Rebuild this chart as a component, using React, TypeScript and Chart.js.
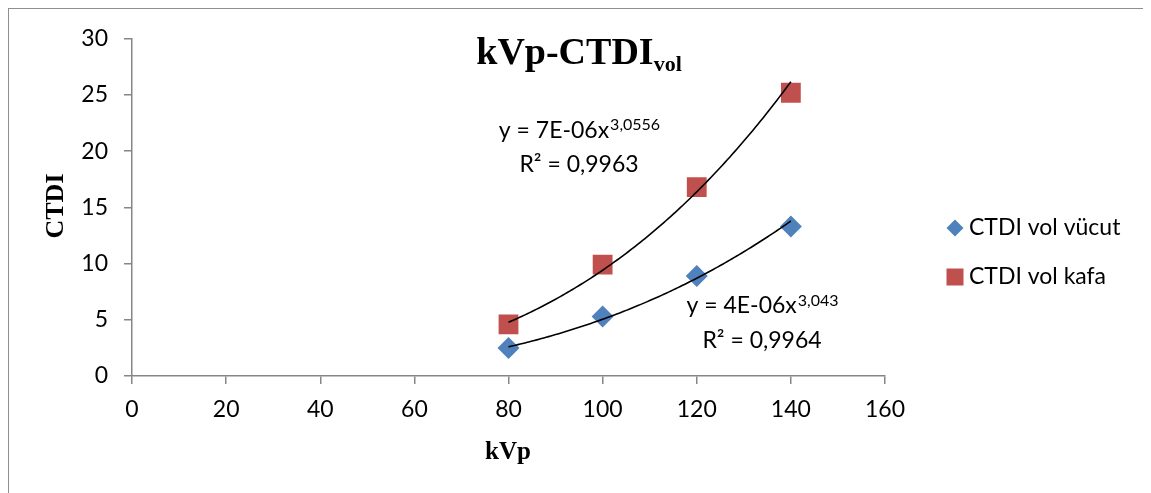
import { useEffect, useRef } from "react";
import { Chart, registerables } from "chart.js";

Chart.register(...registerables);

// Tube voltage (kVp) and measured CTDIvol values
const kvp = [80, 100, 120, 140];
const ctdiVucut = [2.5, 5.3, 8.9, 13.3];
const ctdiKafa = [4.6, 9.9, 16.8, 25.2];

const xTicks = [0, 20, 40, 60, 80, 100, 120, 140, 160];
const yTicks = [0, 5, 10, 15, 20, 25, 30];

const seriesNames = ["CTDI vol vücut", "CTDI vol kafa"];
const seriesColors = ["#4F81BD", "#C0504D"];

// Trendline equation texts (power fit)
const eqVucut = ["y = 4E-06x", "3,043", "R² = 0,9964"];
const eqKafa = ["y = 7E-06x", "3,0556", "R² = 0,9963"];

const chartTitle = ["kVp-CTDI", "vol"];
const xTitle = "kVp";
const yTitle = "CTDI";

const SANS = "Lato, 'Open Sans', sans-serif";
const SERIF = "'Liberation Serif', 'Times New Roman', serif";
const AXIS_GRAY = "#868686";
const TEXT_SIZE = 23;
const SUP_SIZE = 16;

// Least squares fit of y = a * x^b in log-log space
function powerFit(xs: number[], ys: number[]) {
  const lx = xs.map(Math.log);
  const ly = ys.map(Math.log);
  const n = xs.length;
  const mx = lx.reduce((s, v) => s + v, 0) / n;
  const my = ly.reduce((s, v) => s + v, 0) / n;
  let sxy = 0;
  let sxx = 0;
  for (let i = 0; i < n; i++) {
    sxy += (lx[i] - mx) * (ly[i] - my);
    sxx += (lx[i] - mx) * (lx[i] - mx);
  }
  const b = sxy / sxx;
  const a = Math.exp(my - b * mx);
  return { a, b };
}

function trendPoints(xs: number[], ys: number[]) {
  const { a, b } = powerFit(xs, ys);
  const pts: { x: number; y: number }[] = [];
  const x0 = xs[0];
  const x1 = xs[xs.length - 1];
  for (let x = x0; x <= x1 + 1e-9; x += 0.5) {
    pts.push({ x, y: a * Math.pow(x, b) });
  }
  return pts;
}

function drawEquation(
  ctx: CanvasRenderingContext2D,
  eq: string[],
  cx: number,
  base1: number,
  supBase: number,
  base2: number
) {
  ctx.fillStyle = "#000";
  ctx.textBaseline = "alphabetic";
  ctx.textAlign = "left";
  ctx.font = `${TEXT_SIZE}px ${SANS}`;
  const w1 = ctx.measureText(eq[0]).width;
  ctx.font = `${SUP_SIZE}px ${SANS}`;
  const w2 = ctx.measureText(eq[1]).width;
  const start = cx - (w1 + w2) / 2;
  ctx.font = `${TEXT_SIZE}px ${SANS}`;
  ctx.fillText(eq[0], start, base1);
  ctx.font = `${SUP_SIZE}px ${SANS}`;
  ctx.fillText(eq[1], start + w1 + 1, supBase);
  ctx.font = `${TEXT_SIZE}px ${SANS}`;
  ctx.textAlign = "center";
  ctx.fillText(eq[2], cx, base2);
}

const decorations = {
  id: "decorations",
  afterDraw(chart: Chart) {
    const ctx = chart.ctx;
    ctx.save();

    // Title with subscript
    ctx.fillStyle = "#000";
    ctx.textBaseline = "alphabetic";
    ctx.textAlign = "left";
    ctx.font = `bold 38px ${SERIF}`;
    const tw1 = ctx.measureText(chartTitle[0]).width;
    ctx.font = `bold 22px ${SERIF}`;
    const tw2 = ctx.measureText(chartTitle[1]).width;
    const tStart = 570 - (tw1 + tw2) / 2;
    ctx.font = `bold 38px ${SERIF}`;
    ctx.fillText(chartTitle[0], tStart, 55);
    ctx.font = `bold 22px ${SERIF}`;
    ctx.fillText(chartTitle[1], tStart + tw1, 62);

    // Axis titles
    ctx.font = `bold 25px ${SERIF}`;
    ctx.textAlign = "center";
    ctx.fillText(xTitle, 499, 450);
    ctx.save();
    ctx.translate(47, 197);
    ctx.rotate(-Math.PI / 2);
    ctx.textBaseline = "middle";
    ctx.font = `bold 26px ${SERIF}`;
    ctx.fillText(yTitle, 0, 0);
    ctx.restore();

    // Trendline equations
    drawEquation(ctx, eqKafa, 570, 129, 121, 163);
    drawEquation(ctx, eqVucut, 753, 304, 297, 339);

    // Legend
    const lx = 946;
    const rows = [219, 268];
    ctx.fillStyle = seriesColors[0];
    ctx.beginPath();
    ctx.moveTo(lx - 8.5, rows[0]);
    ctx.lineTo(lx, rows[0] - 8.5);
    ctx.lineTo(lx + 8.5, rows[0]);
    ctx.lineTo(lx, rows[0] + 8.5);
    ctx.closePath();
    ctx.fill();
    ctx.fillStyle = seriesColors[1];
    ctx.fillRect(lx - 8.5, rows[1] - 8.5, 17, 17);
    ctx.fillStyle = "#000";
    ctx.font = `${TEXT_SIZE}px ${SANS}`;
    ctx.textAlign = "left";
    ctx.textBaseline = "middle";
    ctx.fillText(seriesNames[0], 960, rows[0]);
    ctx.fillText(seriesNames[1], 960, rows[1]);

    ctx.restore();
  },
};

export default function App() {
  const canvasRef = useRef<HTMLCanvasElement | null>(null);

  useEffect(() => {
    document.body.style.overflow = "hidden";
    const canvas = canvasRef.current;
    if (!canvas) return;

    const axisCommon = {
      type: "linear" as const,
      grid: {
        display: true,
        drawOnChartArea: false,
        drawTicks: true,
        tickLength: 8,
        color: AXIS_GRAY,
        lineWidth: 1.5,
      },
      border: { display: true, color: AXIS_GRAY, width: 1.5 },
    };

    const chart = new Chart(canvas, {
      type: "scatter",
      data: {
        datasets: [
          {
            label: "trend kafa",
            data: trendPoints(kvp, ctdiKafa),
            showLine: true,
            borderColor: "#000",
            borderWidth: 1.6,
            pointRadius: 0,
            order: 0,
          },
          {
            label: "trend vücut",
            data: trendPoints(kvp, ctdiVucut),
            showLine: true,
            borderColor: "#000",
            borderWidth: 1.6,
            pointRadius: 0,
            order: 0,
          },
          {
            label: seriesNames[0],
            data: kvp.map((x, i) => ({ x, y: ctdiVucut[i] })),
            pointStyle: "rectRot",
            pointRadius: 11,
            backgroundColor: seriesColors[0],
            borderColor: seriesColors[0],
            pointBorderWidth: 0,
            order: 1,
          },
          {
            label: seriesNames[1],
            data: kvp.map((x, i) => ({ x, y: ctdiKafa[i] })),
            pointStyle: "rect",
            pointRadius: 14,
            backgroundColor: seriesColors[1],
            borderColor: seriesColors[1],
            pointBorderWidth: 0,
            order: 1,
          },
        ],
      },
      options: {
        animation: false,
        responsive: false,
        events: [],
        layout: { padding: { top: 29, right: 264, left: 0, bottom: 0 } },
        plugins: {
          legend: { display: false },
          tooltip: { enabled: false },
          title: { display: false },
        },
        scales: {
          x: {
            ...axisCommon,
            min: xTicks[0],
            max: xTicks[xTicks.length - 1],
            afterBuildTicks: (s: any) => {
              s.ticks = xTicks.map((v) => ({ value: v }));
            },
            afterFit: (s: any) => {
              s.height = 123;
            },
            ticks: {
              color: "#000",
              font: { family: SANS, size: TEXT_SIZE },
              padding: 12,
              maxRotation: 0,
              autoSkip: false,
            },
          },
          y: {
            ...axisCommon,
            min: yTicks[0],
            max: yTicks[yTicks.length - 1],
            afterBuildTicks: (s: any) => {
              s.ticks = yTicks.map((v) => ({ value: v }));
            },
            afterFit: (s: any) => {
              s.width = 123;
            },
            ticks: {
              color: "#000",
              font: { family: SANS, size: TEXT_SIZE },
              padding: 16,
              autoSkip: false,
            },
          },
        },
      },
      plugins: [decorations],
    } as any);

    return () => chart.destroy();
  }, []);

  return (
    <div
      style={{
        width: 1140,
        height: 490,
        border: "1px solid #8f8f8f",
        background: "#fff",
      }}
    >
      <canvas
        ref={canvasRef}
        width={1140}
        height={490}
        style={{ display: "block", width: 1140, height: 490 }}
      />
    </div>
  );
}
